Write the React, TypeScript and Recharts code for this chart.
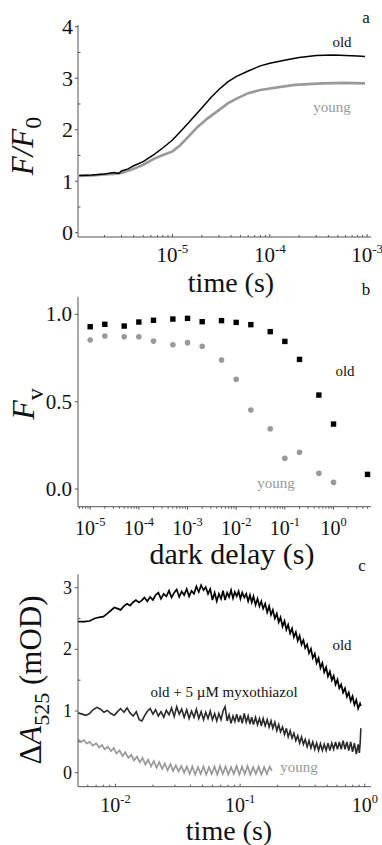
import React from 'react';
import { LineChart, Line, XAxis, YAxis, ScatterChart, Scatter } from 'recharts';

const SERIF = '"Liberation Serif", "Times New Roman", serif';
const FRAME = '#555';
const GRAY = '#999';

// ---------- Panel a: F/F0 vs time ----------
const aOldTime = [1.1e-6, 1.5e-6, 2.0e-6, 2.5e-6, 2.8e-6, 3.0e-6, 3.5e-6, 4.0e-6, 5.0e-6, 6.5e-6, 8.0e-6, 1.0e-5, 1.3e-5, 1.6e-5, 2.0e-5, 2.5e-5, 3.0e-5, 3.7e-5, 4.5e-5, 6.0e-5, 8.0e-5, 1.0e-4, 1.5e-4, 2.0e-4, 3.0e-4, 4.5e-4, 6.0e-4, 8.0e-4, 9.5e-4];
const aOldValue = [1.11, 1.12, 1.14, 1.17, 1.15, 1.2, 1.24, 1.3, 1.38, 1.52, 1.65, 1.8, 2.03, 2.22, 2.42, 2.63, 2.78, 2.93, 3.03, 3.14, 3.24, 3.29, 3.36, 3.4, 3.44, 3.45, 3.44, 3.43, 3.42];
const aYoungTime = [1.1e-6, 1.5e-6, 2.0e-6, 2.5e-6, 3.0e-6, 4.0e-6, 5.0e-6, 6.5e-6, 8.0e-6, 1.0e-5, 1.2e-5, 1.45e-5, 1.8e-5, 2.3e-5, 3.0e-5, 3.7e-5, 4.5e-5, 6.0e-5, 8.0e-5, 1.0e-4, 1.8e-4, 3.4e-4, 6.0e-4, 9.5e-4];
const aYoungValue = [1.1, 1.11, 1.13, 1.14, 1.16, 1.24, 1.32, 1.44, 1.51, 1.58, 1.7, 1.86, 2.05, 2.22, 2.38, 2.51, 2.6, 2.71, 2.77, 2.8, 2.87, 2.9, 2.91, 2.9];
const aXMajor = [1e-5, 1e-4, 1e-3];
const aXLabels = ['-5', '-4', '-3'];
const aYMajor = [0, 1, 2, 3, 4];

// ---------- Panel b: Fv vs dark delay ----------
const bDelay = [1e-5, 2e-5, 5e-5, 1e-4, 2e-4, 5e-4, 1e-3, 2e-3, 5e-3, 1e-2, 2e-2, 5e-2, 0.1, 0.2, 0.5, 1, 5];
const bOld = [0.929, 0.943, 0.933, 0.956, 0.966, 0.973, 0.977, 0.958, 0.964, 0.954, 0.941, 0.901, 0.845, 0.742, 0.538, 0.372, 0.084];
const bYoung = [0.853, 0.876, 0.872, 0.872, 0.847, 0.826, 0.838, 0.817, 0.739, 0.628, 0.452, 0.345, 0.176, 0.21, 0.09, 0.038];
const bXMajor = [1e-5, 1e-4, 1e-3, 1e-2, 1e-1, 1];
const bXLabels = ['-5', '-4', '-3', '-2', '-1', '0'];
const bYMajor = [0, 0.5, 1.0];
const bYLabels = ['0.0', '0.5', '1.0'];

// ---------- Panel c: ΔA525 vs time ----------
const cOldTime = [0.005, 0.0056, 0.0062, 0.0068, 0.0074, 0.008, 0.0086, 0.0092, 0.0098, 0.0104, 0.011, 0.0117, 0.0124, 0.0131, 0.0138, 0.0146, 0.0154, 0.0162, 0.0171, 0.018, 0.019, 0.02, 0.021, 0.0221, 0.0232, 0.0244, 0.0256, 0.0269, 0.0282, 0.0296, 0.031, 0.0325, 0.034, 0.0356, 0.0373, 0.039, 0.0408, 0.0427, 0.0446, 0.0466, 0.0487, 0.0509, 0.053, 0.0553, 0.0576, 0.06, 0.0625, 0.065, 0.0676, 0.0703, 0.073, 0.0758, 0.0787, 0.0816, 0.0846, 0.0877, 0.0908, 0.094, 0.0973, 0.1006, 0.104, 0.108, 0.112, 0.116, 0.12, 0.124, 0.128, 0.133, 0.138, 0.143, 0.148, 0.153, 0.159, 0.165, 0.171, 0.177, 0.183, 0.19, 0.197, 0.204, 0.211, 0.219, 0.227, 0.235, 0.243, 0.252, 0.261, 0.27, 0.28, 0.29, 0.3, 0.311, 0.322, 0.333, 0.345, 0.357, 0.37, 0.383, 0.397, 0.411, 0.426, 0.441, 0.457, 0.473, 0.49, 0.507, 0.525, 0.544, 0.563, 0.583, 0.604, 0.625, 0.647, 0.67, 0.694, 0.719, 0.744, 0.771, 0.798, 0.826, 0.855, 0.885, 0.916, 0.93];
const cOldValue = [2.45, 2.45, 2.46, 2.5, 2.52, 2.53, 2.58, 2.63, 2.68, 2.66, 2.64, 2.7, 2.74, 2.71, 2.76, 2.8, 2.76, 2.79, 2.84, 2.78, 2.85, 2.8, 2.88, 2.92, 2.82, 2.9, 2.86, 2.95, 2.84, 2.92, 2.97, 2.85, 2.94, 2.88, 2.98, 2.86, 2.95, 2.9, 3.02, 2.93, 3.04, 2.96, 3.01, 2.9, 2.98, 2.8, 2.92, 2.78, 2.9, 2.82, 2.95, 2.8, 2.92, 2.85, 2.96, 2.83, 2.93, 2.86, 2.94, 2.82, 2.92, 2.84, 2.9, 2.78, 2.88, 2.76, 2.86, 2.72, 2.82, 2.7, 2.78, 2.66, 2.74, 2.6, 2.7, 2.56, 2.64, 2.5, 2.58, 2.44, 2.52, 2.37, 2.46, 2.32, 2.4, 2.26, 2.34, 2.2, 2.28, 2.14, 2.22, 2.08, 2.15, 2.02, 2.08, 1.94, 2.01, 1.86, 1.93, 1.78, 1.86, 1.7, 1.78, 1.63, 1.71, 1.56, 1.64, 1.5, 1.57, 1.43, 1.51, 1.37, 1.43, 1.3, 1.37, 1.23, 1.3, 1.16, 1.24, 1.1, 1.18, 1.04, 1.12, 1.08];
const cMyxTime = [0.005, 0.0054, 0.0058, 0.0062, 0.0066, 0.0071, 0.0076, 0.0081, 0.0086, 0.0092, 0.0098, 0.0104, 0.011, 0.0117, 0.0124, 0.0131, 0.0139, 0.0147, 0.0155, 0.0163, 0.0172, 0.0181, 0.019, 0.02, 0.021, 0.0221, 0.0232, 0.0244, 0.0256, 0.0269, 0.0282, 0.0296, 0.031, 0.0325, 0.034, 0.0356, 0.0373, 0.039, 0.0408, 0.0427, 0.0446, 0.0466, 0.0487, 0.0509, 0.053, 0.0553, 0.0576, 0.06, 0.0625, 0.065, 0.0676, 0.0703, 0.073, 0.0758, 0.0787, 0.0816, 0.0846, 0.0877, 0.0908, 0.094, 0.0973, 0.1006, 0.104, 0.108, 0.112, 0.116, 0.12, 0.124, 0.128, 0.133, 0.138, 0.143, 0.148, 0.153, 0.159, 0.165, 0.171, 0.177, 0.183, 0.19, 0.197, 0.204, 0.211, 0.219, 0.227, 0.235, 0.243, 0.252, 0.261, 0.27, 0.28, 0.29, 0.3, 0.311, 0.322, 0.333, 0.345, 0.357, 0.37, 0.383, 0.397, 0.411, 0.426, 0.441, 0.457, 0.473, 0.49, 0.507, 0.525, 0.544, 0.563, 0.583, 0.604, 0.625, 0.647, 0.67, 0.694, 0.719, 0.744, 0.771, 0.798, 0.826, 0.855, 0.885, 0.905, 0.92, 0.93];
const cMyxValue = [0.97, 0.95, 0.93, 0.96, 1.02, 1.06, 1.03, 0.98, 1.01, 0.96, 0.93, 0.99, 1.04, 0.98, 1.05, 0.97, 0.92, 0.99, 0.86, 0.84, 0.93, 1.0, 1.04, 0.95, 1.02, 0.92, 0.99, 0.9, 1.01, 0.94, 1.05, 0.91, 1.07, 0.95, 1.03, 0.9, 1.02, 0.88, 1.0, 0.9, 1.03, 0.88, 0.99, 0.86, 0.98, 0.88, 1.0, 0.86, 0.96, 0.84, 0.96, 0.86, 1.0, 1.07, 0.84, 0.94, 0.8, 0.92, 0.83, 0.95, 0.82, 0.93, 0.8, 0.96, 0.82, 0.92, 0.79, 0.9, 0.78, 0.9, 0.78, 0.88, 0.76, 0.88, 0.76, 0.86, 0.74, 0.84, 0.72, 0.82, 0.68, 0.78, 0.66, 0.74, 0.62, 0.72, 0.58, 0.68, 0.56, 0.64, 0.52, 0.6, 0.48, 0.58, 0.46, 0.54, 0.42, 0.52, 0.4, 0.5, 0.38, 0.48, 0.36, 0.47, 0.36, 0.46, 0.36, 0.48, 0.36, 0.48, 0.38, 0.5, 0.38, 0.5, 0.38, 0.52, 0.38, 0.5, 0.36, 0.5, 0.34, 0.48, 0.3, 0.46, 0.32, 0.5, 0.72];
const cYoungTime = [0.005, 0.0053, 0.0056, 0.0059, 0.0062, 0.0066, 0.007, 0.0074, 0.0078, 0.0082, 0.0087, 0.0092, 0.0097, 0.0102, 0.0108, 0.0114, 0.012, 0.0127, 0.0134, 0.0141, 0.0149, 0.0157, 0.0165, 0.0174, 0.0183, 0.0193, 0.0203, 0.0214, 0.0225, 0.0237, 0.0249, 0.0262, 0.0276, 0.029, 0.0305, 0.0321, 0.0338, 0.0356, 0.0374, 0.0394, 0.0414, 0.0436, 0.0459, 0.0483, 0.0508, 0.0535, 0.0563, 0.0592, 0.0623, 0.0656, 0.069, 0.0726, 0.0764, 0.0804, 0.0846, 0.089, 0.0937, 0.0986, 0.1037, 0.1091, 0.1148, 0.1208, 0.1271, 0.1338, 0.1408, 0.1481, 0.1559, 0.164, 0.1726, 0.18];
const cYoungValue = [0.54, 0.5, 0.53, 0.47, 0.5, 0.44, 0.48, 0.41, 0.45, 0.38, 0.42, 0.35, 0.4, 0.31, 0.36, 0.27, 0.33, 0.24, 0.29, 0.2, 0.26, 0.17, 0.24, 0.13, 0.21, 0.1, 0.19, 0.08, 0.17, 0.06, 0.15, 0.04, 0.14, 0.03, 0.12, 0.02, 0.11, 0.0, 0.1, -0.02, 0.1, -0.03, 0.09, -0.02, 0.1, -0.03, 0.09, -0.02, 0.1, -0.03, 0.11, -0.02, 0.1, -0.03, 0.09, -0.02, 0.11, -0.03, 0.1, -0.02, 0.11, -0.03, 0.09, -0.02, 0.1, -0.03, 0.09, -0.02, 0.1, 0.03];
const cXMajor = [1e-2, 1e-1, 1];
const cXLabels = ['-2', '-1', '0'];
const cYMajor = [0, 1, 2, 3];

// ---------- helpers ----------
const zip = (t: number[], v: number[]) => t.map((x, i) => ({ x, y: v[i] }));

function logTicks(lo: number, hi: number, decades: number[]) {
  const out: number[] = [];
  decades.forEach((d) => {
    for (let m = 1; m <= 9; m++) {
      const v = d * m;
      if (v >= lo && v <= hi) out.push(v);
    }
  });
  return out;
}

const isIn = (arr: number[], v: number) => arr.findIndex((m) => Math.abs(m - v) <= Math.abs(m) * 1e-6 + 1e-12);

function makeXTick(majors: number[], labels: string[] | null, dir: number, fontSize: number, baseline: number, majorLen: number, minorLen: number) {
  return (props: any) => {
    const { x, y, payload } = props;
    const idx = isIn(majors, payload.value);
    const len = idx >= 0 ? majorLen : minorLen;
    return (
      <g>
        <line x1={x} y1={y} x2={x} y2={y + dir * len} stroke={FRAME} strokeWidth={1} />
        {labels && idx >= 0 && (
          <text x={x} y={y + baseline} textAnchor="middle" fontFamily={SERIF} fontSize={fontSize} fill="#111">
            10
            <tspan dy={-fontSize * 0.42} fontSize={fontSize * 0.62}>{labels[idx]}</tspan>
          </text>
        )}
      </g>
    );
  };
}

function makeYTick(majors: number[], labels: string[], fontSize: number, gap: number) {
  return (props: any) => {
    const { x, y, payload } = props;
    const idx = isIn(majors, payload.value);
    if (idx < 0) {
      return <line x1={x} y1={y} x2={x + 2.5} y2={y} stroke={FRAME} strokeWidth={1} />;
    }
    return (
      <g>
        <line x1={x} y1={y} x2={x - 3} y2={y} stroke={FRAME} strokeWidth={1} />
        <text x={x - gap} y={y} dy={fontSize * 0.34} textAnchor="end" fontFamily={SERIF} fontSize={fontSize} fill="#111">
          {labels[idx]}
        </text>
      </g>
    );
  };
}

function makeTopTick(majors: number[], majorLen: number, minorLen: number) {
  return (props: any) => {
    const { x, y, payload } = props;
    const len = isIn(majors, payload.value) >= 0 ? majorLen : minorLen;
    return <line x1={x} y1={y} x2={x} y2={y + len} stroke={FRAME} strokeWidth={1} />;
  };
}

const hiddenTick = () => <g />;

// ---------- Panel A ----------
function PanelA() {
  const domX: [number, number] = [1.07e-6, 1.096e-3];
  const domY: [number, number] = [-0.083, 4.033];
  const xt = logTicks(domX[0], domX[1], [1e-6, 1e-5, 1e-4, 1e-3]);
  const yt = [0, 0.5, 1, 1.5, 2, 2.5, 3, 3.5, 4];
  return (
    <LineChart width={382} height={280} margin={{ top: 25, right: 11, bottom: 13, left: 0 }}>
      <XAxis xAxisId="b" dataKey="x" type="number" scale="log" domain={domX} allowDataOverflow ticks={xt} interval={0}
        tickSize={0} tickMargin={0} tickLine={false} axisLine={{ stroke: FRAME }} height={30}
        tick={makeXTick(aXMajor, aXLabels, -1, 21, 25, 3, 2)} />
      <XAxis xAxisId="t" orientation="top" dataKey="x" type="number" scale="log" domain={domX} allowDataOverflow ticks={xt} interval={0}
        tickSize={0} tickMargin={0} tickLine={false} axisLine={{ stroke: FRAME }} height={0}
        tick={makeTopTick(aXMajor, 3, 2)} />
      <YAxis yAxisId="l" type="number" domain={domY} allowDataOverflow ticks={yt} interval={0} width={78}
        tickSize={0} tickMargin={0} tickLine={false} axisLine={{ stroke: FRAME }}
        tick={makeYTick(aYMajor, aYMajor.map(String), 22, 5)} />
      <YAxis yAxisId="r" orientation="right" type="number" domain={domY} allowDataOverflow width={0}
        tickLine={false} axisLine={{ stroke: FRAME }} tick={hiddenTick} />
      <Line xAxisId="b" yAxisId="l" data={zip(aYoungTime, aYoungValue)} dataKey="y" stroke={GRAY} strokeWidth={2.6}
        dot={false} isAnimationActive={false} />
      <Line xAxisId="b" yAxisId="l" data={zip(aOldTime, aOldValue)} dataKey="y" stroke="#000" strokeWidth={1.5}
        dot={false} isAnimationActive={false} />
    </LineChart>
  );
}

// ---------- Panel B ----------
const squareShape = (p: any) => <rect x={p.cx - 2.7} y={p.cy - 2.7} width={5.4} height={5.4} fill="#000" />;
const circleShape = (p: any) => <circle cx={p.cx} cy={p.cy} r={2.8} fill={GRAY} />;

function PanelB() {
  const domX: [number, number] = [5.62e-6, 5.89];
  const domY: [number, number] = [-0.101, 1.101];
  const xt = logTicks(domX[0], domX[1], [1e-6, 1e-5, 1e-4, 1e-3, 1e-2, 1e-1, 1]);
  return (
    <ScatterChart width={382} height={260} margin={{ top: 16.7, right: 11, bottom: 3.3, left: 0 }}>
      <XAxis xAxisId="b" dataKey="x" type="number" scale="log" domain={domX} allowDataOverflow ticks={xt} interval={0}
        tickSize={0} tickMargin={0} tickLine={false} axisLine={{ stroke: FRAME }} height={30}
        tick={makeXTick(bXMajor, bXLabels, 1, 20, 28, 3, 2)} />
      <XAxis xAxisId="t" orientation="top" dataKey="x" type="number" scale="log" domain={domX} allowDataOverflow
        tickLine={false} axisLine={{ stroke: FRAME }} height={0} tick={hiddenTick} />
      <YAxis yAxisId="l" dataKey="y" type="number" domain={domY} allowDataOverflow ticks={bYMajor} interval={0} width={78}
        tickSize={0} tickMargin={0} tickLine={false} axisLine={{ stroke: FRAME }}
        tick={makeYTick(bYMajor, bYLabels, 21, 6)} />
      <YAxis yAxisId="r" orientation="right" dataKey="y" type="number" domain={domY} allowDataOverflow width={0}
        tickLine={false} axisLine={{ stroke: FRAME }} tick={hiddenTick} />
      <Scatter xAxisId="b" yAxisId="l" data={zip(bDelay.slice(0, bYoung.length), bYoung)} shape={circleShape} isAnimationActive={false} />
      <Scatter xAxisId="b" yAxisId="l" data={zip(bDelay, bOld)} shape={squareShape} isAnimationActive={false} />
    </ScatterChart>
  );
}

// ---------- Panel C ----------
function PanelC() {
  const domX: [number, number] = [0.00501, 1.122];
  const domY: [number, number] = [-0.227, 3.217];
  const xt = logTicks(domX[0], domX[1], [1e-3, 1e-2, 1e-1, 1]);
  const yt = [0, 0.5, 1, 1.5, 2, 2.5, 3];
  return (
    <LineChart width={382} height={305} margin={{ top: 34.3, right: 11, bottom: 28.3, left: 0 }}>
      <XAxis xAxisId="b" dataKey="x" type="number" scale="log" domain={domX} allowDataOverflow ticks={xt} interval={0}
        tickSize={0} tickMargin={0} tickLine={false} axisLine={{ stroke: FRAME }} height={30}
        tick={makeXTick(cXMajor, cXLabels, -1, 20, 25, 3, 2)} />
      <XAxis xAxisId="t" orientation="top" dataKey="x" type="number" scale="log" domain={domX} allowDataOverflow
        tickLine={false} axisLine={{ stroke: FRAME }} height={0} tick={hiddenTick} />
      <YAxis yAxisId="l" type="number" domain={domY} allowDataOverflow ticks={yt} interval={0} width={78}
        tickSize={0} tickMargin={0} tickLine={false} axisLine={{ stroke: FRAME }}
        tick={makeYTick(cYMajor, cYMajor.map(String), 18, 6)} />
      <YAxis yAxisId="r" orientation="right" type="number" domain={domY} allowDataOverflow width={0}
        tickLine={false} axisLine={{ stroke: FRAME }} tick={hiddenTick} />
      <Line xAxisId="b" yAxisId="l" data={zip(cYoungTime, cYoungValue)} dataKey="y" stroke={GRAY} strokeWidth={1.7}
        dot={false} isAnimationActive={false} />
      <Line xAxisId="b" yAxisId="l" data={zip(cMyxTime, cMyxValue)} dataKey="y" stroke="#2a2a2a" strokeWidth={1.6}
        dot={false} isAnimationActive={false} />
      <Line xAxisId="b" yAxisId="l" data={zip(cOldTime, cOldValue)} dataKey="y" stroke="#000" strokeWidth={1.7}
        dot={false} isAnimationActive={false} />
    </LineChart>
  );
}

// ---------- Text overlay ----------
function Overlay() {
  const t = { fontFamily: SERIF, fill: '#111' } as const;
  return (
    <svg width={382} height={845} style={{ position: 'absolute', left: 0, top: 0, pointerEvents: 'none' }}>
      {/* panel a */}
      <text {...t} x={366} y={23} fontSize={17} textAnchor="middle">a</text>
      <text {...t} x={342} y={47} fontSize={15} textAnchor="middle">old</text>
      <text {...t} x={332} y={112} fontSize={15} textAnchor="middle" fill={GRAY}>young</text>
      <text {...t} x={231} y={292} fontSize={28} textAnchor="middle">time (s)</text>
      <text {...t} fontSize={31} textAnchor="middle" transform="translate(33,146) rotate(-90)">
        <tspan fontStyle="italic">F/F</tspan>
        <tspan dy={8} fontSize={24}>0</tspan>
      </text>
      {/* panel b */}
      <text {...t} x={366} y={295} fontSize={17} textAnchor="middle">b</text>
      <text {...t} x={345} y={376} fontSize={15} textAnchor="middle">old</text>
      <text {...t} x={276} y={488} fontSize={15} textAnchor="middle" fill={GRAY}>young</text>
      <text {...t} x={232} y={564} fontSize={30} textAnchor="middle">dark delay (s)</text>
      <text {...t} fontSize={32} textAnchor="middle" transform="translate(34,404) rotate(-90)">
        <tspan fontStyle="italic">F</tspan>
        <tspan dy={9} fontSize={24}>v</tspan>
      </text>
      {/* panel c */}
      <text {...t} x={362} y={571} fontSize={17} textAnchor="middle">c</text>
      <text {...t} x={342} y={650} fontSize={15} textAnchor="middle">old</text>
      <text {...t} x={224} y={697} fontSize={15} textAnchor="middle">old + 5 µM myxothiazol</text>
      <text {...t} x={299} y={772} fontSize={15} textAnchor="middle" fill={GRAY}>young</text>
      <text {...t} x={229} y={840} fontSize={28} textAnchor="middle">time (s)</text>
      <text {...t} fontSize={31} textAnchor="middle" transform="translate(41,680) rotate(-90)">
        Δ<tspan fontStyle="italic">A</tspan>
        <tspan dy={8} fontSize={22}>525</tspan>
        <tspan dy={-8}> (mOD)</tspan>
      </text>
    </svg>
  );
}

export default function App() {
  return (
    <div style={{ position: 'absolute', left: 0, top: 0, width: 382, height: 845, background: '#fff', overflow: 'hidden' }}>
      <div style={{ position: 'absolute', left: 0, top: 0 }}><PanelA /></div>
      <div style={{ position: 'absolute', left: 0, top: 280 }}><PanelB /></div>
      <div style={{ position: 'absolute', left: 0, top: 540 }}><PanelC /></div>
      <Overlay />
    </div>
  );
}
